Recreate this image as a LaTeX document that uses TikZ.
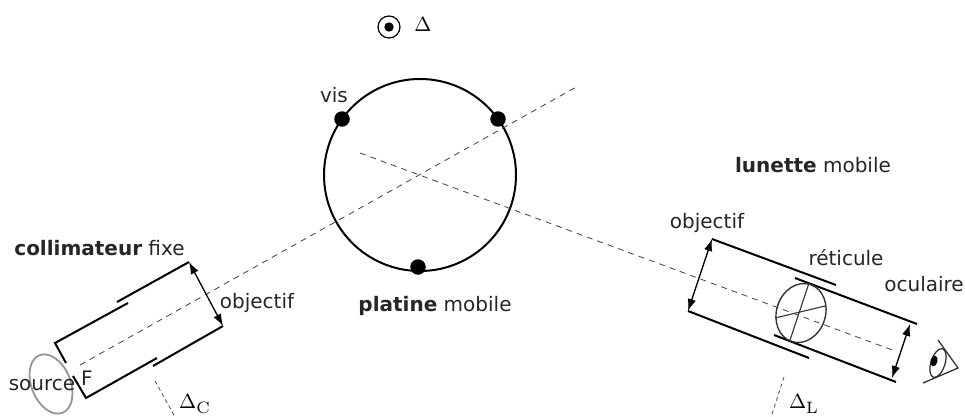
\documentclass[tikz,border=0pt]{standalone}
\usepackage{amsmath}
\usepackage[no-math]{fontspec}
\setmainfont{DejaVu Sans}
\usepackage{tikz}
\usetikzlibrary{arrows.meta}
\tikzstyle{arrow} = [{Latex[length=12pt,width=8.5pt]}-{Latex[length=12pt,width=8.5pt]}, line width=1.3pt]
\tikzstyle{tube} = [line width=2pt, black]
\tikzstyle{axe} = [line width=0.8pt, dash pattern=on 6pt off 5pt, black!75]
\tikzstyle{axecourt} = [line width=0.7pt, dash pattern=on 4pt off 3pt, black!75]
\tikzstyle{vis} = [circle, fill=black, minimum size=15.5pt, inner sep=0pt]
\tikzstyle{thin} = [line width=1.1pt, black!80]
\tikzstyle{delta} = [font=\normalsize, scale=2.05, text=black]
\newcommand{\indice}[1]{\scalebox{1.15}{$\scriptstyle\mathrm{#1}$}}

\begin{document}
\begin{tikzpicture}[x=1pt, y=-1pt, every node/.style={font=\fontsize{20}{22}\selectfont, inner sep=0pt, text=black!85}]
		\useasboundingbox (0,0) rectangle (965,417);

		% platine
		\coordinate (centre) at (420,175);
		\draw [line width=2pt] (centre) circle (96);
		\node (vis1) [vis] at (342,119) {};
		\node (vis2) [vis] at (498,119) {};
		\node (vis3) [vis] at (418,267) {};
		\node (vislabel) at (334,95) {vis};
		\node (platine) at (435,306) {\textbf{platine} mobile};

		% axe de rotation
		\coordinate (axe) at (389,27);
		\draw [line width=1.2pt] (axe) circle (11);
		\fill (axe) circle (4.7);
		\node (delta) [delta] at (423,24) {$\Delta$};

		% axes optiques
		\coordinate (cstart) at (80,365);
		\coordinate (cend) at (578,86);
		\coordinate (lstart) at (360,153);
		\coordinate (lend) at (895,351);
		\draw [axe] (cstart) -- (cend);
		\draw [axe] (lstart) -- (lend);

		% collimateur
		\coordinate (c1) at (66,363);
		\coordinate (c2) at (55,343);
		\coordinate (c3) at (128,303);
		\coordinate (c4) at (117,302);
		\coordinate (c5) at (189,262);
		\coordinate (c6) at (73,376);
		\coordinate (c7) at (86,398);
		\coordinate (c8) at (157,358);
		\coordinate (c9) at (153,366);
		\coordinate (c10) at (223,326);
		\draw [tube] (c1) -- (c2) -- (c3);
		\draw [tube] (c4) -- (c5);
		\draw [tube] (c6) -- (c7) -- (c8);
		\draw [tube] (c9) -- (c10);
		\draw [arrow] (c5) -- (c10);
		\coordinate (source) at (51,384);
		\draw [line width=1.9pt, black!40, rotate around={-68:(source)}] (source) ellipse [x radius=31, y radius=19.5];
		\node (sourcelabel) at (42,385) {source};
		\node (flabel) at (87,378) {F};
		\node (colobjectif) at (257,303) {objectif};
		\node (collimateur) at (99.5,248) {\textbf{collimateur} fixe};
		\coordinate (dcstart) at (155,381);
		\coordinate (dcend) at (175,417);
		\draw [axecourt] (dcstart) -- (dcend);
		\node (deltac) [delta] at (195,404) {$\Delta_{\indice{C}}$};

		% lunette
		\coordinate (l1) at (712,239);
		\coordinate (l2) at (836,285);
		\coordinate (l3) at (795,278);
		\coordinate (l4) at (917,324);
		\coordinate (l5) at (688,311);
		\coordinate (l6) at (809,358);
		\coordinate (l7) at (774,335);
		\coordinate (l8) at (896,382);
		\coordinate (oc1) at (910,324);
		\coordinate (oc2) at (892,378);
		\draw [tube] (l1) -- (l2);
		\draw [tube] (l3) -- (l4);
		\draw [tube] (l5) -- (l6);
		\draw [tube] (l7) -- (l8);
		\draw [arrow] (l1) -- (l5);
		\draw [arrow] (oc1) -- (oc2);
		\coordinate (ret) at (801,313);
		\draw [thin, line width=1.4pt, rotate around={-108:(ret)}] (ret) ellipse [x radius=30, y radius=24.5];
		\coordinate (r1) at (809,283);
		\coordinate (r2) at (790,340);
		\coordinate (r3) at (775,318);
		\coordinate (r4) at (825,306);
		\draw [thin] (r1) -- (r2);
		\draw [thin] (r3) -- (r4);
		\node (lunette) at (813,165) {\textbf{lunette} mobile};
		\node (lunobjectif) at (707,223) {objectif};
		\node (reticule) at (846,258) {réticule};
		\node (oculaire) at (924,284) {oculaire};
		\coordinate (dlstart) at (784,377);
		\coordinate (dlend) at (771,417);
		\draw [axecourt] (dlstart) -- (dlend);
		\node (deltal) [delta] at (804,404) {$\Delta_{\indice{L}}$};

		% oeil
		\coordinate (oeil) at (938,363);
		\coordinate (e1) at (938,340);
		\coordinate (e2) at (958,368);
		\coordinate (e3) at (923,383);
		\draw [thin, line width=1.3pt] (e1) -- (e2) -- (e3);
		\draw [thin, line width=1.3pt, rotate around={-108:(oeil)}] (oeil) ellipse [x radius=15, y radius=7];
		\fill [black, rotate around={-105:(934,361)}] (934,361) ellipse [x radius=5.5, y radius=3.5];
	\end{tikzpicture}
\end{document}
